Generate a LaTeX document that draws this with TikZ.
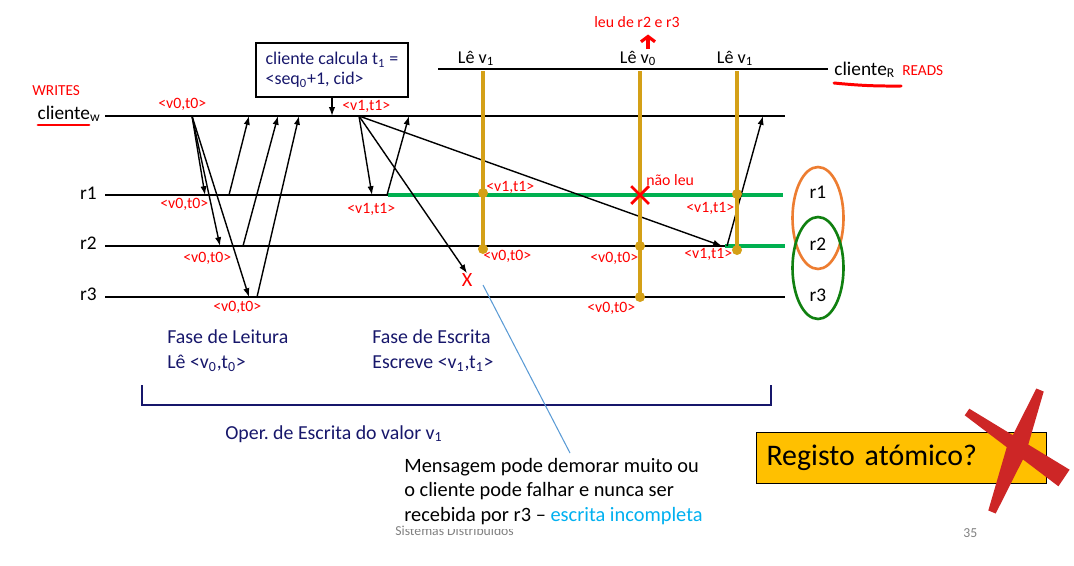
\documentclass[tikz,border=0pt]{standalone}
\usepackage{fontspec}
\setmainfont{Carlito}
\frenchspacing
\usetikzlibrary{positioning,arrows.meta,shapes.geometric,shapes.misc}
\definecolor{navy}{RGB}{23,23,107}
\definecolor{gold}{RGB}{212,160,23}
\definecolor{okgreen}{RGB}{0,176,80}
\definecolor{quorumA}{RGB}{237,125,49}
\definecolor{quorumB}{RGB}{16,128,16}
\definecolor{linkblue}{RGB}{91,155,213}
\definecolor{cyanblue}{RGB}{0,176,240}
\definecolor{boxyellow}{RGB}{255,192,0}
\definecolor{crossred}{RGB}{205,38,38}
\definecolor{footgray}{RGB}{128,128,128}
\newcommand\oldpair{<v0,t0>}
\newcommand\newpair{<v1,t1>}

\begin{document}
\begin{tikzpicture}[x=0.02cm,y=-0.02cm,
  proc/.style={line width=1.3pt},
  msg/.style={line width=0.8pt,-{Latex[length=5pt,width=3.6pt]}},
  tag/.style={anchor=base west,text=red,inner sep=0pt,font=\fontsize{9}{10}\selectfont},
  lbl/.style={inner sep=0pt,font=\fontsize{11}{13}\selectfont},
  navytxt/.style={inner sep=0pt,text=navy,align=left,font=\fontsize{11.3}{14.7}\selectfont},
  readbar/.style={gold,line width=2.3pt},
  hit/.style={circle,fill=gold,inner sep=0pt,minimum size=5.7pt},
  okline/.style={okgreen,line width=2.2pt},
  quorum/.style={ellipse,draw,line width=1.5pt,minimum width=1.02cm,minimum height=2.04cm}]

\useasboundingbox (0,0) rectangle (1074,565);

\foreach \n/\y/\xa/\xb in {w/116/105/785, a/195/105/783, b/246/105/785, c/297/105/785, R/69/438/828}{
  \coordinate (\n0) at (\xa,\y);
  \coordinate (\n1) at (\xb,\y);
  \draw[proc] (\n0) -- (\n1);
}

\node[lbl,anchor=base east] (cw) at (101,119) {cliente\textsubscript{w}};
\node[lbl,anchor=base east] (la) at (97,199) {r1};
\node[lbl,anchor=base east] (lb) at (97,249) {r2};
\node[lbl,anchor=base east] (lc) at (97,300) {r3};
\node[lbl,anchor=base west] (cr) at (834,75) {cliente\textsubscript{R}};
\node[tag,font=\fontsize{8.7}{10}\selectfont] (wr) at (32,95) {WRITES};
\node[tag,font=\fontsize{8.7}{10}\selectfont] (rr) at (902,75) {READS};
\draw[red,line width=1.7pt,line cap=round] (38,125) -- (89,125);
\draw[red,line width=1.7pt,line cap=round] (834,83) to[bend right=3] (901,86);

\node[draw,line width=0.6pt,text=navy,align=left,inner sep=0pt,minimum width=3.04cm,minimum height=1.08cm,font=\fontsize{10.2}{11.3}\selectfont] (calc) at (332,70) {cliente calcula t\textsubscript{1} =\\<seq\textsubscript{0}+1, cid>};
\draw[msg] (calc.south) -- (calc.south |- w0);

\coordinate (s0) at (192,116);
\foreach \t/\x/\y in {qa/205/195, qb/220/246, qc/249/297}{
  \coordinate (\t) at (\x,\y);
  \draw[msg] (s0) -- (\t);
}
\foreach \f/\fx/\fy/\t/\tx in {pa/229/195/ua/249, pb/243/246/ub/278, pc/257/297/uc/299, pa1/387/195/ua1/409, pb1/727/246/ub1/763}{
  \coordinate (\f) at (\fx,\fy);
  \coordinate (\t) at (\tx,116);
}

\coordinate (ga) at (388,195);
\coordinate (gb) at (725,246);
\draw[okline] (ga) -- (a1);
\draw[okline] (gb) -- (b1);

\foreach \f/\t in {pa/ua, pb/ub, pc/uc, pa1/ua1, pb1/ub1}
  \draw[msg] (\f) -- (\t);

\coordinate (s1) at (359,116);
\coordinate (qa1) at (372,195);
\coordinate (qb1) at (722,246);
\node[text=red,inner sep=0pt,font=\fontsize{11.5}{13}\selectfont] (lost) at (467,280) {X};
\draw[msg] (s1) -- (qa1);
\draw[msg] (s1) -- (lost.north);
\draw[msg] (s1) -- (qb1);

\foreach \k/\x/\lo in {1/483/249, 2/640/297, 3/737/250}{
  \coordinate (top\k) at (\x,71);
  \coordinate (bot\k) at (\x,\lo);
  \draw[readbar] (top\k) -- (bot\k);
}
\node[lbl,anchor=base,font=\fontsize{10.3}{12}\selectfont] (rd1) at (476,63) {Lê v\textsubscript{1}};
\node[lbl,anchor=base,font=\fontsize{10.3}{12}\selectfont] (rd2) at (638,63) {Lê v\textsubscript{0}};
\node[lbl,anchor=base,font=\fontsize{10.3}{12}\selectfont] (rd3) at (735,63) {Lê v\textsubscript{1}};

\foreach \n/\x/\y/\t in {tg1/158/108/\oldpair, tg2/342/110/\newpair, tg3/160/208/\oldpair, tg4/183/262/\oldpair, tg5/213/311/\oldpair, tg6/347/213/\newpair, tg7/486/191/\newpair, tg8/483/260/\oldpair, tg9/590/262/\oldpair, tg10/587/312/\oldpair, tg11/686/212/\newpair, tg12/684/258/\newpair}
  \node[tag] (\n) at (\x,\y) {\t};

\node[hit] (h1a) at (483,193) {};
\node[hit] (h1b) at (483,249) {};
\node[hit] (h2b) at (640,246) {};
\node[hit] (h2c) at (640,297) {};
\node[hit] (h3a) at (737,194) {};
\node[hit] (h3b) at (737,250) {};
\node[cross out,draw=red,line width=1.6pt,minimum size=8.5pt,inner sep=0pt] (miss) at (640,195) {};
\node[tag] (nl) at (646,185) {não leu};

\node[tag] (src) at (594,27) {leu de r2 e r3};
\coordinate (up0) at (648,49);
\draw[red,line width=1.8pt,-{Straight Barb[length=3pt,width=8pt]}] (up0) -- ([yshift=-4pt]src.south -| up0);

\node[quorum,draw=quorumA] (qA) at (818,218) {};
\node[quorum,draw=quorumB] (qB) at (818,268) {};
\node[lbl,anchor=base] (ea) at (818,198) {r1};
\node[lbl,anchor=base] (eb) at (818,250) {r2};
\node[lbl,anchor=base] (ec) at (818,301) {r3};

\node[navytxt,anchor=north west] (rph) at (167,329) {Fase de Leitura\\Lê <v\textsubscript{0},t\textsubscript{0}>};
\node[navytxt,anchor=north west] (wph) at (372,329) {Fase de Escrita\\Escreve <v\textsubscript{1},t\textsubscript{1}>};
\draw[navy,line width=0.9pt] (142,385) -- (142,405) -- (771,405) -- (771,385);
\node[navytxt,anchor=base west] (op) at (225,439) {Oper. de Escrita do valor v\textsubscript{1}};

\node[anchor=base west,inner sep=0pt,text=footgray,font=\fontsize{7.8}{9}\selectfont] (foot) at (395,535) {Sistemas Distribuídos};
\node[anchor=base west,inner sep=0pt,text=footgray,font=\fontsize{7.8}{9}\selectfont] (page) at (963,537) {35};
\node[anchor=north west,fill=white,inner xsep=0pt,inner ysep=2.8pt,align=left,font=\fontsize{11.6}{13.9}\selectfont] (note) at (404,453) {Mensagem pode demorar muito ou\\o cliente pode falhar e nunca ser\\recebida por r3 – {\color{cyanblue}escrita incompleta}};
\coordinate (tip) at (483,285);
\draw[linkblue,line width=0.6pt] (tip) -- (note.north -| 570,0);

\node[draw,fill=boxyellow,line width=0.6pt,anchor=north west,minimum width=5.8cm,minimum height=1.02cm,text width=5.4cm,inner xsep=0.2cm,align=left,font=\fontsize{17}{20}\selectfont] (atom) at (756,432) {Registo atómico?};
\fill[crossred] (969.3,408.7) -- (1069.6,469.7) -- (1058.4,486.3) -- (964.7,415.3) -- cycle;
\fill[crossred] (1043.7,391.5) -- (1025.3,454.7) -- (995.7,513.5) -- (988.3,510.5) -- (1006.7,447.3) -- (1036.3,388.5) -- cycle;
\end{tikzpicture}
\end{document}
